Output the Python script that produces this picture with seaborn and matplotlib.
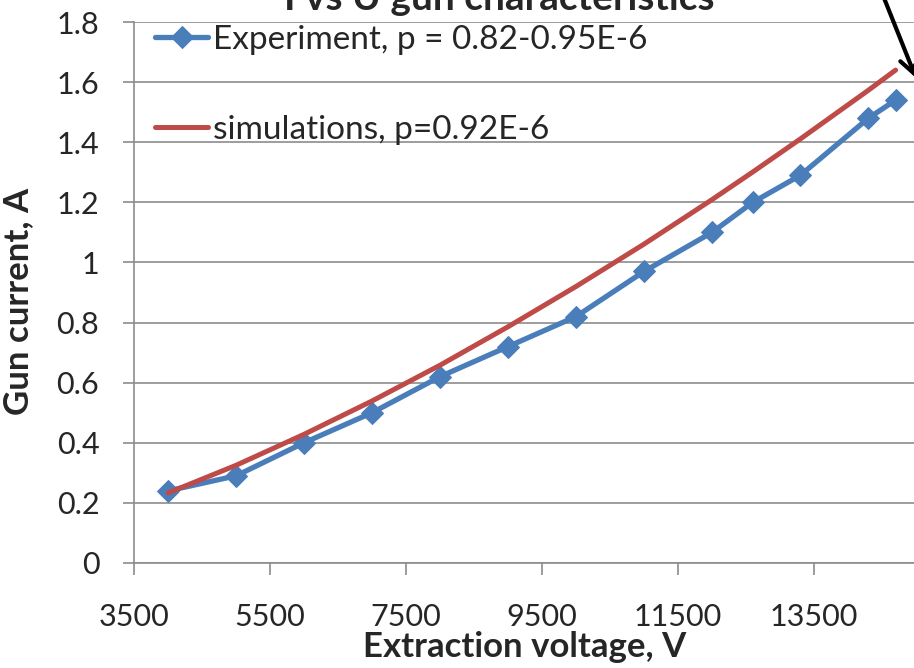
import matplotlib
matplotlib.use("Agg")
import matplotlib.pyplot as plt
import seaborn as sns
import pandas as pd

# Measured gun current versus extraction voltage
exp_voltage = [4000, 5000, 6000, 7000, 8000, 9000, 10000, 11000, 12000, 12600, 13300, 14300, 14700]
exp_current = [0.24, 0.29, 0.40, 0.50, 0.62, 0.72, 0.82, 0.97, 1.10, 1.20, 1.29, 1.48, 1.54]

# Simulated gun current
sim_voltage = [4000, 5000, 6000, 7000, 8000, 9000, 10000, 11000, 12000, 12600, 13300, 14300, 14700]
sim_current = [0.233, 0.325, 0.428, 0.539, 0.658, 0.786, 0.920, 1.061, 1.209, 1.301, 1.411, 1.573, 1.640]

x_ticks = [3500, 5500, 7500, 9500, 11500, 13500]
y_ticks = [0, 0.2, 0.4, 0.6, 0.8, 1, 1.2, 1.4, 1.6, 1.8]
y_tick_labels = ["0", "0.2", "0.4", "0.6", "0.8", "1", "1.2", "1.4", "1.6", "1.8"]

exp_label = "Experiment, p = 0.82-0.95E-6"
sim_label = "simulations, p=0.92E-6"

sns.set_theme(style="white")
plt.rcParams["font.family"] = ["Lato", "DejaVu Sans"]

BLUE = "#4A7EBB"
RED = "#BE4B48"
GRID = "#8C8C8C"

W, H = 914, 668
fig = plt.figure(figsize=(W / 100, H / 100), dpi=100)
ax = fig.add_axes([134 / W, (H - 563) / H, 816 / W, (563 - 22) / H])

exp_df = pd.DataFrame({"voltage": exp_voltage, "current": exp_current})
sim_df = pd.DataFrame({"voltage": sim_voltage, "current": sim_current})

sns.lineplot(data=exp_df, x="voltage", y="current", ax=ax, color=BLUE,
             linewidth=3.8, marker="D", markersize=11.5, markeredgecolor=BLUE,
             markerfacecolor=BLUE, label=exp_label, zorder=3,
             solid_capstyle="round")
sns.lineplot(data=sim_df, x="voltage", y="current", ax=ax, color=RED,
             linewidth=3.6, label=sim_label, zorder=4, solid_capstyle="round")

ax.set_xlim(3500, 15500)
ax.set_ylim(0, 1.8)
ax.set_xticks(x_ticks)
ax.set_xticklabels([str(v) for v in x_ticks])
ax.set_yticks(y_ticks)
ax.set_yticklabels(y_tick_labels)

ax.yaxis.grid(True, color=GRID, linewidth=1.2)
ax.xaxis.grid(False)
ax.set_axisbelow(True)
for side in ("top", "right"):
    ax.spines[side].set_visible(False)
for side in ("left", "bottom"):
    ax.spines[side].set_color(GRID)
    ax.spines[side].set_linewidth(1.2)

ax.tick_params(axis="x", which="major", direction="out", length=8.5, width=1.2,
               color=GRID, pad=20, labelsize=22, bottom=True)
ax.tick_params(axis="y", which="major", direction="out", length=8, width=1.2,
               color=GRID, pad=17, labelsize=22, left=True)

ax.set_xlabel("Extraction voltage, V", fontsize=25, fontweight="bold")
ax.set_ylabel("Gun current, A", fontsize=25, fontweight="bold")
ax.xaxis.set_label_coords((525 - 134) / 816, -(647 - 563) / 541)
ax.xaxis.label.set_va("center")
ax.yaxis.set_label_coords((18 - 134) / 816, (563 - 301) / 541)
ax.yaxis.label.set_va("center")

fig.text(499 / W, 1 - 10 / H, "I vs U gun characteristics", fontsize=28,
         fontweight="bold", ha="center", va="baseline")

leg = ax.legend(loc="upper left", bbox_to_anchor=(155 / W, 1 - 25 / H),
                bbox_transform=fig.transFigure, frameon=False, fontsize=24,
                borderpad=0, borderaxespad=0, handlelength=1.6,
                handletextpad=0.15, labelspacing=1.8)

ax.annotate("", xy=(916 / W, 1 - 78 / H), xytext=(884 / W, 1 + 2 / H),
            xycoords="figure fraction", textcoords="figure fraction",
            arrowprops=dict(arrowstyle="->", lw=3, color="black",
                            mutation_scale=30, shrinkA=0, shrinkB=0),
            annotation_clip=False)

fig.savefig("out.png", dpi=100)
